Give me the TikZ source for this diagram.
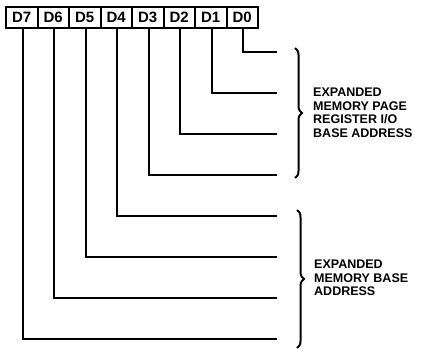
\documentclass[tikz,border=0pt]{standalone}
\usepackage{fontspec}
\setmainfont{Liberation Sans}
\usetikzlibrary{decorations.pathreplacing}
\begin{document}
\begin{tikzpicture}[x=1pt,y=-1pt,
  bitbox/.style={draw,line width=2pt,minimum width=31.5pt,minimum height=21pt,inner sep=0pt,font=\fontsize{15}{15}\selectfont\bfseries},
  wire/.style={line width=2.4pt},
  bracebar/.style={line width=2pt,decorate,decoration={brace,amplitude=7pt}},
  lbl/.style={anchor=west,align=left,inner sep=0pt,font=\fontsize{12.5}{13.5}\selectfont\bfseries}]
\useasboundingbox (0,0) rectangle (443,350);
\foreach \i/\k in {7/0,6/1,5/2,4/3,3/4,2/5,1/6,0/7}{
  \node[bitbox] (b\i) at ({21.75+31.5*\k},17.5) {D\i};
}
\foreach \i/\k in {0/0,1/1,2/2,3/3,4/4,5/5,6/6,7/7}{
  \coordinate (e\i) at (277,{52+41*\k});
  \draw[wire] ([xshift=1pt]b\i.south) |- (e\i);
}
\draw[bracebar] (295,48) -- (295,178);
\draw[bracebar] (297,210) -- (297,348);
\node[lbl] (t1) at (313,113) {EXPANDED\\MEMORY PAGE\\REGISTER I/O\\BASE ADDRESS};
\node[lbl] (t2) at (314,278) {EXPANDED\\MEMORY BASE\\ADDRESS};
\end{tikzpicture}
\end{document}
